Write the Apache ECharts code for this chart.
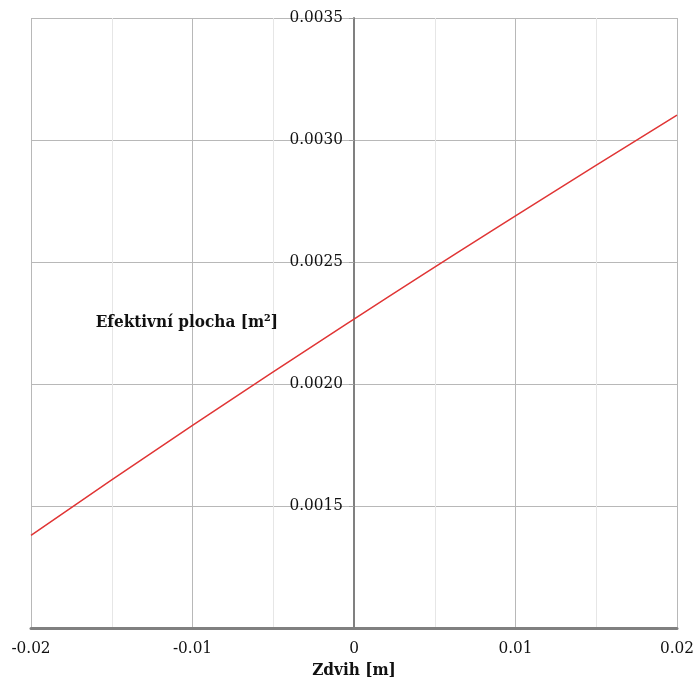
<!DOCTYPE html>
<html>
<head>
<meta charset="utf-8">
<style>
  html, body { margin: 0; padding: 0; background: #fff; }
  #chart { width: 696px; height: 677px; }
</style>
<script src="https://cdn.jsdelivr.net/npm/echarts@6/dist/echarts.min.js"></script>
</head>
<body>
<div id="chart"></div>
<script>
// Stroke positions [m] and the matching effective area [m²]
const strokes = [-0.02, -0.01, 0, 0.01, 0.02];
const areas = [0.00138, 0.00183, 0.002266, 0.002689, 0.003102];

const xTitle = 'Zdvih [m]';
const yTitle = 'Efektivní plocha [m²]';

const font = "'DejaVu Serif Condensed', 'DejaVu Serif', serif";

const gridLeft = 31, gridRight = 19;
const width = 696;
// the vertical axis sits at stroke = 0, i.e. in the middle of the plot area
const plotWidth = width - gridLeft - gridRight;
const yAxisShift = -plotWidth / 2;

const chart = echarts.init(document.getElementById('chart'), null, { renderer: 'canvas' });

chart.setOption({
  backgroundColor: '#ffffff',
  animation: false,
  grid: { left: gridLeft, right: gridRight, top: 18, bottom: 49, containLabel: false, outerBoundsMode: 'none' },
  xAxis: {
    type: 'value',
    min: -0.02,
    max: 0.02,
    interval: 0.01,
    name: xTitle,
    nameLocation: 'middle',
    nameGap: 32,
    nameTextStyle: { fontFamily: font, fontWeight: 'bold', fontSize: 17, color: '#111' },
    axisLine: { show: true, lineStyle: { color: '#808080', width: 3 } },
    axisTick: { show: false },
    axisLabel: {
      fontFamily: font, fontSize: 17, color: '#111', margin: 12,
      formatter: v => (Math.abs(v) < 1e-12 ? '0' : v.toFixed(2))
    },
    splitLine: { show: true, lineStyle: { color: '#b8b8b8', width: 1 } },
    minorTick: { show: false, splitNumber: 2 },
    minorSplitLine: { show: true, lineStyle: { color: '#e6e6e6', width: 1 } }
  },
  yAxis: {
    type: 'value',
    min: 0.001,
    max: 0.0035,
    interval: 0.0005,
    offset: yAxisShift,
    name: yTitle,
    nameLocation: 'middle',
    nameRotate: 0,
    nameGap: 76,
    nameTextStyle: {
      fontFamily: font, fontWeight: 'bold', fontSize: 17, color: '#111',
      align: 'right', verticalAlign: 'middle', padding: [6, 0, 0, 0]
    },
    axisLine: { show: true, onZero: false, lineStyle: { color: '#808080', width: 2 } },
    axisTick: { show: true, length: 5, lineStyle: { color: '#a0a0a0' } },
    axisLabel: {
      fontFamily: font, fontSize: 17, color: '#111', margin: 11,
      showMinLabel: false,
      formatter: v => v.toFixed(4)
    },
    splitLine: { show: true, lineStyle: { color: '#b8b8b8', width: 1 } }
  },
  series: [{
    type: 'line',
    data: strokes.map((x, i) => [x, areas[i]]),
    smooth: true,
    showSymbol: false,
    lineStyle: { color: '#e03535', width: 1.5 }
  }]
});
</script>
</body>
</html>
